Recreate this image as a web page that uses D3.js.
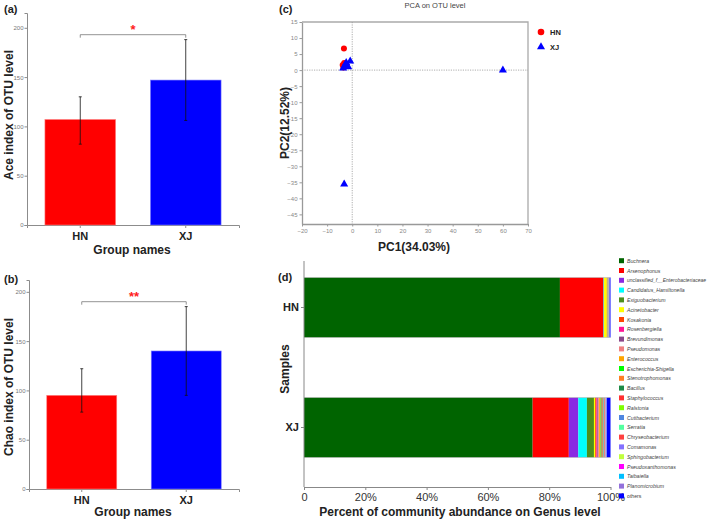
<!DOCTYPE html>
<html><head><meta charset="utf-8">
<script src="https://cdn.jsdelivr.net/npm/d3@7"></script>
<style>body{margin:0;background:#fff}svg{display:block;font-family:"Liberation Sans",Arial,sans-serif}</style>
</head><body><svg id="c" width="709" height="520"></svg>
<script>
// ---------- DATA ----------
const groups = ["HN", "XJ"];
const groupColors = ["#FF0000", "#0000FF"];
const aceMean = [107, 147];
const aceLow = [82, 106];
const aceHigh = [130, 188];
const aceSig = "*";
const aceSigLevel = 193;
const chaoMean = [95, 140];
const chaoLow = [78, 95];
const chaoHigh = [122, 185];
const chaoSig = "**";
const chaoSigLevel = 190;
const alphaTicks = [0, 50, 100, 150, 200];

const pcaHN = [[-3.3, 6.7], [-3.8, 1.6], [-3.2, 2.2], [-2.9, 1.2], [-3.5, 0.8]];
const pcaXJ = [[-3.6, 0.6], [-3.0, 1.4], [-2.4, 2.3], [-1.6, 1.0], [-0.8, 2.8], [60, 0], [-3.2, -35.6]];
const pcaXTicks = [-20, -10, 0, 10, 20, 30, 40, 50, 60, 70];
const pcaYTicks = [15, 10, 5, 0, -5, -10, -15, -20, -25, -30, -35, -40, -45];

const genera = ["Buchnera", "Arsenophonus", "unclassified_f__Enterobacteriaceae", "Candidatus_Hamiltonella",
  "Exiguobacterium", "Acinetobacter", "Kosakonia", "Rosenbergiella", "Brevundimonas", "Pseudomonas",
  "Enterococcus", "Escherichia-Shigella", "Stenotrophomonas", "Bacillus", "Staphylococcus", "Ralstonia",
  "Cutibacterium", "Serratia", "Chryseobacterium", "Comamonas", "Sphingobacterium", "Pseudoxanthomonas",
  "Taibaiella", "Planomicrobium", "others"];
const genusColors = ["#006400", "#FF0000", "#8A2BE2", "#00FFFF", "#4E8F1E", "#FFFF00", "#FF4500", "#FF1493",
  "#8B4789", "#F08080", "#FFA500", "#00FF00", "#FF7F24", "#1E8B45", "#FF3030", "#7FFF00", "#4F86E0",
  "#54FF9F", "#FF4040", "#8470FF", "#C0FF3E", "#FF00FF", "#00BFFF", "#9370DB", "#0000FF"];
const hnAbund = [83.5, 14.1, 0.1, 0.1, 0.1, 0.9, 0.05, 0.05, 0.05, 0.05, 0.05, 0.05, 0.05, 0.05, 0.05, 0.05,
  0.05, 0.05, 0.05, 0.05, 0.05, 0.05, 0.05, 0.05, 0.3];
const xjAbund = [74.6, 11.8, 3.1, 2.8, 2.3, 0.4, 0.4, 0.3, 0.3, 0.3, 0.3, 0.2, 0.3, 0.2, 0.2, 0.2,
  0.2, 0.1, 0.2, 0.2, 0.1, 0.1, 0.1, 0.1, 1.2];
const pctTicks = [0, 0.2, 0.4, 0.6, 0.8, 1.0];

// ---------- DRAW ----------
const svg = d3.select("#c");
const AX = "#8c8c8c";

function label(t, x, y, opts = {}) {
  const el = svg.append("text").attr("x", x).attr("y", y).text(t)
    .attr("font-size", opts.size || 12).attr("font-weight", opts.weight || "bold")
    .attr("fill", opts.fill || "#222").attr("text-anchor", opts.anchor || "middle");
  if (opts.rotate) el.attr("transform", `rotate(-90,${x},${y})`);
  if (opts.italic) el.attr("font-style", "italic");
  return el;
}

function alphaPanel(cfg) {
  const y = d3.scaleLinear().domain([0, cfg.yMax]).range([cfg.y0, cfg.y1]);
  const x = d3.scaleBand().domain(groups).range([cfg.x0, cfg.x1]).paddingInner(0.33).paddingOuter(0.17);
  const g = svg.append("g");
  // y axis
  const ya = g.append("g").attr("transform", `translate(${cfg.x0},0)`)
    .call(d3.axisLeft(y).tickValues(alphaTicks).tickSize(2.5).tickPadding(1));
  ya.selectAll("path,line").attr("stroke", AX);
  ya.selectAll("text").attr("font-size", 6).attr("fill", "#777").attr("font-family", "Liberation Sans, Arial");
  // x axis
  const xa = g.append("g").attr("transform", `translate(0,${cfg.y0})`)
    .call(d3.axisBottom(x).tickSize(3).tickPadding(4).tickSizeOuter(3));
  xa.selectAll("path,line").attr("stroke", AX);
  xa.selectAll("text").attr("font-size", 11).attr("font-weight", "bold").attr("fill", "#222")
    .attr("font-family", "Liberation Sans, Arial");
  // bars
  g.selectAll("rect.bar").data(groups).join("rect")
    .attr("x", d => x(d)).attr("width", x.bandwidth())
    .attr("y", (d, i) => y(cfg.mean[i])).attr("height", (d, i) => y(0) - y(cfg.mean[i]))
    .attr("fill", (d, i) => groupColors[i]).attr("stroke", (d, i) => i ? "#8080ff" : "#ff8080").attr("stroke-width", 0.6);
  // error bars
  groups.forEach((d, i) => {
    const cx = x(d) + x.bandwidth() / 2;
    g.append("line").attr("x1", cx).attr("x2", cx).attr("y1", y(cfg.low[i])).attr("y2", y(cfg.high[i]))
      .attr("stroke", "#111").attr("stroke-width", 0.8);
    [cfg.low[i], cfg.high[i]].forEach(v => g.append("line").attr("x1", cx - 1.5).attr("x2", cx + 1.5)
      .attr("y1", y(v)).attr("y2", y(v)).attr("stroke", "#111").attr("stroke-width", 0.8));
  });
  // significance bracket
  const c0 = x(groups[0]) + x.bandwidth() / 2, c1 = x(groups[1]) + x.bandwidth() / 2, sy = y(cfg.sigLevel);
  g.append("path").attr("d", `M${c0},${sy + 3}V${sy}H${c1}V${sy + 3}`).attr("fill", "none").attr("stroke", "#777").attr("stroke-width", 0.8);
  label(cfg.sig, (c0 + c1) / 2, sy - 1, { size: 13, fill: "#FF2020" });
  // labels
  label(cfg.tag, 4, cfg.tagY, { size: 11, anchor: "start" });
  label(cfg.ytitle, 13, cfg.ytitleY, { size: 12, rotate: true });
  label("Group names", (cfg.x0 + cfg.x1) / 2 - 1, cfg.xtitleY, { size: 12 });
}

alphaPanel({ yMax: 215, y0: 225, y1: 13, x0: 27, x1: 239, mean: aceMean, low: aceLow, high: aceHigh,
  sig: aceSig, sigLevel: aceSigLevel, tag: "(a)", tagY: 13, ytitle: "Ace index of OTU level", ytitleY: 115, xtitleY: 254 });
alphaPanel({ yMax: 212, y0: 489, y1: 280, x0: 29, x1: 239, mean: chaoMean, low: chaoLow, high: chaoHigh,
  sig: chaoSig, sigLevel: chaoSigLevel, tag: "(b)", tagY: 283, ytitle: "Chao index of OTU level", ytitleY: 387, xtitleY: 516 });

// ---------- PCA ----------
(function () {
  const x = d3.scaleLinear().domain([-20, 70]).range([302, 528]);
  const y = d3.scaleLinear().domain([-48, 15]).range([224, 22]);
  const g = svg.append("g");
  const xa = g.append("g").attr("transform", `translate(0,${y(-48)})`)
    .call(d3.axisBottom(x).tickValues(pcaXTicks).tickSize(2.5).tickPadding(2).tickSizeOuter(0));
  const ya = g.append("g").attr("transform", `translate(${x(-20)},0)`)
    .call(d3.axisLeft(y).tickValues(pcaYTicks).tickSize(2.5).tickPadding(2).tickSizeOuter(0));
  [xa, ya].forEach(a => {
    a.selectAll("path,line").attr("stroke", "#999");
    a.select("path").attr("stroke-width", 1.3);
    a.selectAll("text").attr("font-size", 6).attr("fill", "#888").attr("font-family", "Liberation Sans, Arial");
  });
  g.append("path").attr("d", `M${x(-20)},${y(15)}H${x(70)}V${y(-48)}`).attr("fill", "none")
    .attr("stroke", "#aaa").attr("stroke-width", 1.3);
  g.append("line").attr("x1", x(0)).attr("x2", x(0)).attr("y1", y(15)).attr("y2", y(-48))
    .attr("stroke", "#999").attr("stroke-dasharray", "1.2,1.2").attr("stroke-width", 0.8);
  g.append("line").attr("x1", x(-20)).attr("x2", x(70)).attr("y1", y(0)).attr("y2", y(0))
    .attr("stroke", "#999").attr("stroke-dasharray", "1.2,1.2").attr("stroke-width", 0.8);
  const tri = d3.symbol().type(d3.symbolTriangle).size(28);
  g.selectAll("circle.hn").data(pcaHN).join("circle").attr("cx", d => x(d[0])).attr("cy", d => y(d[1]))
    .attr("r", 3).attr("fill", groupColors[0]);
  g.selectAll("path.xj").data(pcaXJ).join("path").attr("d", tri)
    .attr("transform", d => `translate(${x(d[0])},${y(d[1])})`).attr("fill", groupColors[1]);
  // legend
  g.append("circle").attr("cx", 541).attr("cy", 32).attr("r", 3.3).attr("fill", groupColors[0]);
  g.append("path").attr("d", tri).attr("transform", "translate(541,47)").attr("fill", groupColors[1]);
  label("HN", 550, 35, { size: 7.5, anchor: "start" });
  label("XJ", 550, 50, { size: 7.5, anchor: "start" });
  label("PCA on OTU level", 435, 8, { size: 7.5, weight: "normal", fill: "#444" });
  label("(c)", 279, 13, { size: 11, anchor: "start" });
  label("PC2(12.52%)", 289, 123, { size: 12, rotate: true });
  label("PC1(34.03%)", 414, 251, { size: 12 });
})();

// ---------- Stacked bars ----------
(function () {
  const x = d3.scaleLinear().domain([0, 1]).range([304, 610.5]);
  const y = d3.scaleBand().domain(groups).range([247.5, 487.5]).paddingInner(0.5).paddingOuter(0.25);
  const g = svg.append("g");
  const rows = [hnAbund, xjAbund];
  groups.forEach((grp, gi) => {
    const vals = rows[gi];
    const total = d3.sum(vals);
    let acc = 0;
    vals.forEach((v, k) => {
      g.append("rect").attr("x", x(acc / total)).attr("width", x((acc + v) / total) - x(acc / total))
        .attr("y", y(grp)).attr("height", y.bandwidth()).attr("fill", genusColors[k]);
      acc += v;
    });
    g.append("line").attr("x1", x(0)).attr("x2", x(1)).attr("y1", y(grp)).attr("y2", y(grp))
      .attr("stroke", "#bbb").attr("stroke-width", 0.6);
    g.append("line").attr("x1", x(0)).attr("x2", x(1)).attr("y1", y(grp) + y.bandwidth()).attr("y2", y(grp) + y.bandwidth())
      .attr("stroke", "#bbb").attr("stroke-width", 0.6);
  });
  const xa = g.append("g").attr("transform", "translate(0,487)")
    .call(d3.axisBottom(x).tickValues(pctTicks).tickFormat(d => d === 0 ? "0" : d3.format(".0%")(d)).tickSize(3).tickPadding(3).tickSizeOuter(0));
  xa.selectAll("path,line").attr("stroke", "#888");
  xa.selectAll("text").attr("font-size", 11).attr("fill", "#333").attr("font-family", "Liberation Sans, Arial");
  const ya = g.append("g").attr("transform", "translate(304,0)")
    .call(d3.axisLeft(y).tickSize(3).tickPadding(2).tickSizeOuter(0));
  ya.select("path").attr("d", "M0,261V487");
  ya.selectAll("path,line").attr("stroke", "#888");
  ya.selectAll("text").attr("font-size", 11).attr("font-weight", "bold").attr("fill", "#222")
    .attr("font-family", "Liberation Sans, Arial");
  // legend
  const lg = g.append("g");
  genera.forEach((n, k) => {
    const ly = 260.7 + k * 9.8;
    lg.append("rect").attr("x", 619).attr("y", ly - 2.5).attr("width", 5).attr("height", 5).attr("fill", genusColors[k]);
    const t = lg.append("text").attr("x", 627).attr("y", ly + 2).text(n).attr("font-size", 5.2)
      .attr("fill", "#444");
    if (n !== "others") t.attr("font-style", "italic");
    if (n.length > 30) t.attr("textLength", 79).attr("lengthAdjust", "spacingAndGlyphs");
  });
  label("(d)", 278, 281, { size: 11, anchor: "start" });
  label("Samples", 289, 369, { size: 12, rotate: true });
  label("Percent of community abundance on Genus level", 460, 516, { size: 12 });
})();
</script></body></html>
